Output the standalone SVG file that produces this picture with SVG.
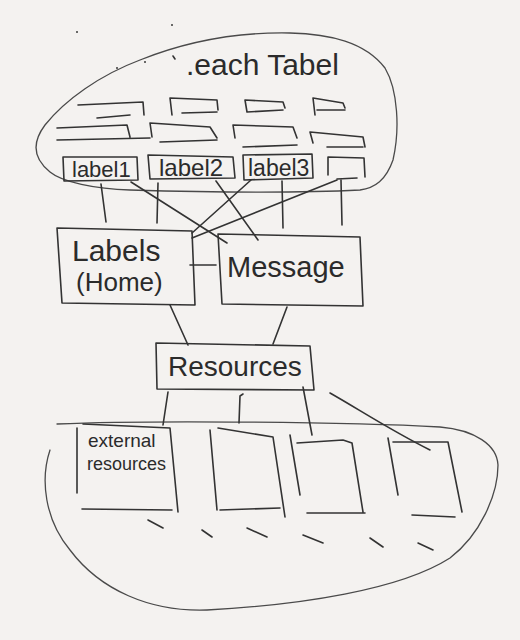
<svg xmlns="http://www.w3.org/2000/svg" width="520" height="640" viewBox="0 0 520 640">
<style>
.s{fill:none;stroke:#333;stroke-width:1.6;stroke-linecap:round;stroke-linejoin:round}
.l{fill:none;stroke:#4a4a4a;stroke-width:1.3;stroke-linecap:round}
.t{font-family:"Liberation Sans",Arial,sans-serif;fill:#2b2b2b}
.d{fill:#3b3b3b}
</style>
<rect width="520" height="640" fill="#f4f2f0"/>

<g id="top-group">
<path class="l" d="M50,172 C35,160 30,145 45,125 C65,100 100,75 140,60 C190,40 240,32 290,33 C330,34 365,42 385,68 C398,90 400,130 393,160 C386,180 375,188 360,190 C300,193 200,192 130,190 C95,189 62,182 50,172"/>
<circle class="d" cx="77" cy="32" r="1"/>
<circle class="d" cx="172" cy="25" r="1"/>
<circle class="d" cx="117" cy="68" r="1"/>
<circle class="d" cx="145" cy="62" r="1"/>
<path class="s" d="M173,56 l2,3"/>
<text class="t" x="186" y="75" font-size="30">.each Tabel</text>
</g>

<g id="tabs">
<path class="s" d="M78,105 L143,102 L144,115 M97,118 L130,115"/>
<path class="s" d="M172,115 L170,98 L217,100 L218,110 M182,113 L217,112"/>
<path class="s" d="M247,112 L245,100 L283,102 L285,108 M247,112 L283,110"/>
<path class="s" d="M315,115 L313,98 L343,103 L345,108 M317,110 L345,110"/>
<path class="s" d="M57,128 L127,125 L130,137 M57,140 L150,138"/>
<path class="s" d="M152,137 L150,123 L210,127 L217,138 M160,142 L217,140"/>
<path class="s" d="M235,138 L233,125 L293,127 L297,138 M243,147 L297,145"/>
<path class="s" d="M313,143 L310,132 L363,137 L365,147 M327,147 L363,147"/>
</g>

<g id="label1">
<path class="s" d="M63,157 L137,157 L138,180 L64,181 Z"/>
<text class="t" x="72" y="177" font-size="22">label1</text>
</g>
<g id="label2">
<path class="s" d="M148,155 L233,157 L235,178 L150,179 Z"/>
<text class="t" x="159" y="176" font-size="24">label2</text>
</g>
<g id="label3">
<path class="s" d="M243,155 L312,154 L313,178 L244,180 Z"/>
<text class="t" x="248" y="176" font-size="23">label3</text>
</g>
<g id="label4">
<path class="s" d="M328,175 L328,157 L364,158 L365,177 M337,179 L357,178"/>
</g>

<g id="labels-home">
<path class="s" d="M57,228 L192,231 L195,305 L62,303 Z"/>
<text class="t" x="72" y="261" font-size="30">Labels</text>
<text class="t" x="76" y="291" font-size="26">(Home)</text>
</g>

<g id="message">
<path class="s" d="M218,234 L360,237 L363,306 L222,304 Z"/>
<text class="t" x="227" y="277" font-size="29">Message</text>
</g>

<g id="resources">
<path class="s" d="M156,343 L310,346 L314,390 L157,389 Z"/>
<text class="t" x="168" y="376" font-size="28">Resources</text>
</g>

<g id="bottom-group">
<path class="l" d="M57,424 C150,420 350,422 440,427 C475,430 497,445 498,465 C498,495 480,535 450,558 C400,590 300,605 207,610 C150,612 100,590 70,550 C45,520 40,480 50,450"/>
<path class="s" d="M148,520 L163,528 M202,530 L212,537 M247,528 L267,537 M303,535 L323,543 M370,538 L383,547 M418,543 L433,550"/>
</g>

<g id="external-resources">
<path class="s" d="M77,428 L77,493 M83,424 L170,428 L178,512 M82,509 L172,510"/>
<text class="t" x="88" y="447" font-size="19">external</text>
<text class="t" x="87" y="470" font-size="18">resources</text>
</g>
<g id="resource2">
<path class="s" d="M210,430 L217,510 M218,428 L273,437 L285,517 M220,510 L280,508"/>
</g>
<g id="resource3">
<path class="s" d="M290,435 L300,495 M297,443 L343,440 L352,443 L363,512 M307,513 L365,513"/>
</g>
<g id="resource4">
<path class="s" d="M388,438 L398,495 M393,442 L448,442 L462,512 M412,515 L455,517"/>
</g>

<g id="connectors" class="s">
<path d="M101,184 L106,222"/>
<path d="M158,183 L157,223"/>
<path d="M282,181 L283,228"/>
<path d="M341,180 L342,225"/>
<path d="M131,182 L227,243"/>
<path d="M216,181 L258,240"/>
<path d="M251,180 L192,233"/>
<path d="M337,180 L192,238"/>
<path d="M190,265 L216,265"/>
<path d="M170,305 L188,345"/>
<path d="M287,307 L273,344"/>
<path d="M168,392 L163,425"/>
<path d="M243,394 L240,396 L239,423"/>
<path d="M303,387 L312,435"/>
<path d="M330,393 C360,410 390,430 430,450"/>
</g>
</svg>
